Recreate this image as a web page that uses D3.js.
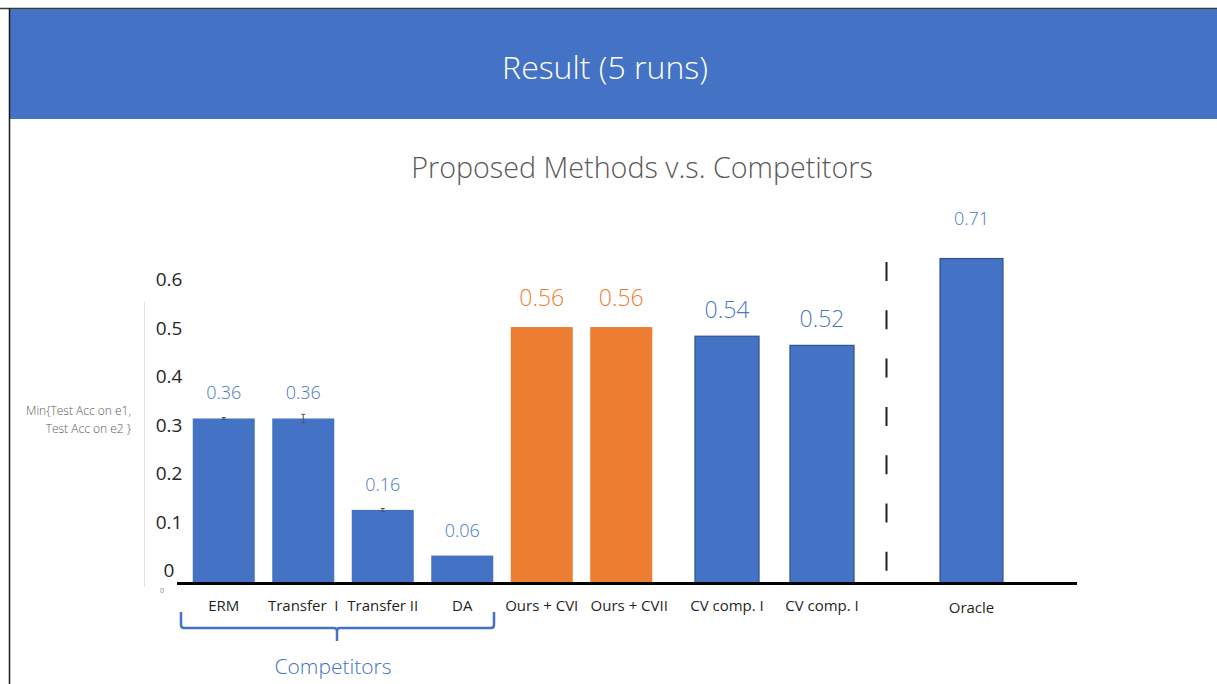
<!DOCTYPE html>
<html>
<head>
<meta charset="utf-8">
<script src="https://cdn.jsdelivr.net/npm/d3@7"></script>
<style>
  html, body { margin: 0; padding: 0; background: #fff; }
  svg { display: block; font-family: "Open Sans", "Noto Sans", sans-serif; }
</style>
</head>
<body>
<svg id="chart" width="1217" height="684"></svg>
<script>
// Method names, in drawing order
const categories = ["ERM", "Transfer  I", "Transfer II", "DA",
  "Ours + CVI", "Ours + CVII", "CV comp. I", "CV comp. I", "Oracle"];
// Mean of min{test acc on e1, test acc on e2} over 5 runs
const values = [0.36, 0.36, 0.16, 0.06, 0.56, 0.56, 0.54, 0.52, 0.71];
// Half-width of the spread across runs
const errors = [0.002, 0.009, 0.003, 0, 0, 0, 0, 0, 0];
// Which family each method belongs to
const groups = ["competitor", "competitor", "competitor", "competitor",
  "ours", "ours", "cv", "cv", "oracle"];
// Labels printed along the left axis
const tickLabels = [0, 0.1, 0.2, 0.3, 0.4, 0.5, 0.6];

const BLUE = "#4472C4", ORANGE = "#ED7D31";
const svg = d3.select("#chart");

// Slide frame and header band
svg.append("line").attr("x1", 0).attr("x2", 1217).attr("y1", 8.5).attr("y2", 8.5)
  .attr("stroke", "#3a3a3a").attr("stroke-width", 1.5);
svg.append("rect").attr("x", 9).attr("y", 9).attr("width", 1208).attr("height", 110)
  .attr("fill", BLUE);
svg.append("line").attr("x1", 9.5).attr("x2", 9.5).attr("y1", 8).attr("y2", 684)
  .attr("stroke", "#1a1a1a").attr("stroke-width", 1.5);
svg.append("text").attr("x", 605).attr("y", 79).attr("text-anchor", "middle")
  .attr("fill", "#fff").attr("font-size", 32).attr("font-weight", 300)
  .text("Result (5 runs)");

svg.append("text").attr("x", 642).attr("y", 178).attr("text-anchor", "middle")
  .attr("fill", "#595959").attr("font-size", 28.7).attr("font-weight", 300)
  .text("Proposed Methods v.s. Competitors");

// Value scale used for the bars
const baseY = 583;
const y = d3.scaleLinear().domain([0, 0.6]).range([baseY, baseY - 0.6 * 457]);

// Horizontal placement: three clusters of bands
const idx = d3.range(categories.length);
const xA = d3.scaleBand().domain(idx.slice(0, 6)).range([184, 661]).paddingInner(0.22).paddingOuter(0.11);
const xB = d3.scaleBand().domain(idx.slice(6, 8)).range([679.5, 869.5]).paddingInner(0.326).paddingOuter(0.163);
const xC = d3.scaleBand().domain(idx.slice(8)).range([940, 1003]).padding(0);
const scaleFor = i => (i < 6 ? xA : i < 8 ? xB : xC);
const bx = i => scaleFor(i)(i);
const bw = i => scaleFor(i).bandwidth();
const cx = i => bx(i) + bw(i) / 2;

// Left axis labels (own scale, as printed on the slide)
const yTick = d3.scaleLinear().domain([0, 0.6]).range([570, 279]);
const axis = d3.axisLeft(yTick).tickValues(tickLabels).tickSize(0)
  .tickFormat(d => d === 0 ? "0" : d3.format(".1f")(d));
const gAxis = svg.append("g").attr("transform", "translate(169,0)").call(axis);
gAxis.select(".domain").remove();
gAxis.selectAll("text").attr("x", 0).attr("text-anchor", "middle").attr("dy", "0.35em")
  .attr("font-size", 19).attr("fill", "#262626").attr("font-family", "\"Open Sans\", sans-serif");

// Faint axis rule
svg.append("line").attr("x1", 144.5).attr("x2", 144.5).attr("y1", 302).attr("y2", 587)
  .attr("stroke", "#e3e3e3").attr("stroke-width", 1);
svg.append("text").attr("x", 160).attr("y", 593).attr("font-size", 7).attr("fill", "#888").text("0");

// Axis title
const at = svg.append("text").attr("text-anchor", "end").attr("font-size", 12)
  .attr("fill", "#595959").attr("font-weight", 300);
at.append("tspan").attr("x", 131).attr("y", 415).text("Min{Test Acc  on e1,");
at.append("tspan").attr("x", 131).attr("y", 433).text("Test Acc on e2 }");

// Bars
const fillOf = g => (g === "ours" ? ORANGE : BLUE);
const strokeOf = g => (g === "cv" || g === "oracle" ? "#2F528F" : "none");
svg.append("g").selectAll("rect").data(values).join("rect")
  .attr("x", (d, i) => bx(i)).attr("width", (d, i) => bw(i))
  .attr("y", d => y(d)).attr("height", d => y(0) - y(d))
  .attr("fill", (d, i) => fillOf(groups[i]))
  .attr("stroke", (d, i) => strokeOf(groups[i])).attr("stroke-width", 1.2);

// Error bars
const eg = svg.append("g").attr("stroke", "#555").attr("stroke-width", 1);
values.forEach((v, i) => {
  if (!errors[i]) return;
  const x0 = cx(i), y1 = y(v + errors[i]), y2 = y(v - errors[i]);
  eg.append("line").attr("x1", x0).attr("x2", x0).attr("y1", y1).attr("y2", y2);
  eg.append("line").attr("x1", x0 - 2).attr("x2", x0 + 2).attr("y1", y1).attr("y2", y1);
  eg.append("line").attr("x1", x0 - 2).attr("x2", x0 + 2).attr("y1", y2).attr("y2", y2);
});

// Value labels
const big = g => g === "ours" || g === "cv";
const labelGap = { competitor: 19, ours: 21, cv: 18, oracle: 34 };
svg.append("g").selectAll("text").data(values).join("text")
  .attr("x", (d, i) => cx(i)).attr("y", (d, i) => y(d) - labelGap[groups[i]])
  .attr("text-anchor", "middle")
  .attr("font-size", (d, i) => (big(groups[i]) ? 23 : 18))
  .attr("font-weight", 300)
  .attr("fill", (d, i) => (groups[i] === "ours" ? ORANGE : "#4A78C8"))
  .text(d => d3.format(".2f")(d));

// Baseline
svg.append("line").attr("x1", 177).attr("x2", 1077).attr("y1", baseY + 0.5).attr("y2", baseY + 0.5)
  .attr("stroke", "#000").attr("stroke-width", 3);

// Category labels
svg.append("g").selectAll("text").data(categories).join("text")
  .attr("x", (d, i) => cx(i) + (i === 5 ? 8 : 0)).attr("y", (d, i) => (i === 8 ? 613 : 611))
  .attr("text-anchor", "middle").attr("font-size", 15).attr("fill", "#1f1f1f")
  .attr("xml:space", "preserve").style("white-space", "pre")
  .text(d => d);

// Separator before the oracle
svg.append("line").attr("x1", 886.5).attr("x2", 886.5).attr("y1", 262).attr("y2", 571)
  .attr("stroke", "#222").attr("stroke-width", 2).attr("stroke-dasharray", "19 29.3");

// Brace marking the competitor group
const bl = 181, br = 494, bt = 612, bm = 628, mid = 337;
svg.append("path")
  .attr("d", `M${bl},${bt} L${bl},${bm - 3} Q${bl},${bm} ${bl + 3},${bm} L${mid - 3},${bm} Q${mid},${bm} ${mid},${bm + 3} L${mid},${bm + 13}
              M${mid},${bm + 3} Q${mid},${bm} ${mid + 3},${bm} L${br - 3},${bm} Q${br},${bm} ${br},${bm - 3} L${br},${bt}`)
  .attr("fill", "none").attr("stroke", BLUE).attr("stroke-width", 2.5);
svg.append("text").attr("x", 333).attr("y", 674).attr("text-anchor", "middle")
  .attr("font-size", 21).attr("fill", BLUE).attr("font-weight", 300).text("Competitors");
</script>
</body>
</html>
